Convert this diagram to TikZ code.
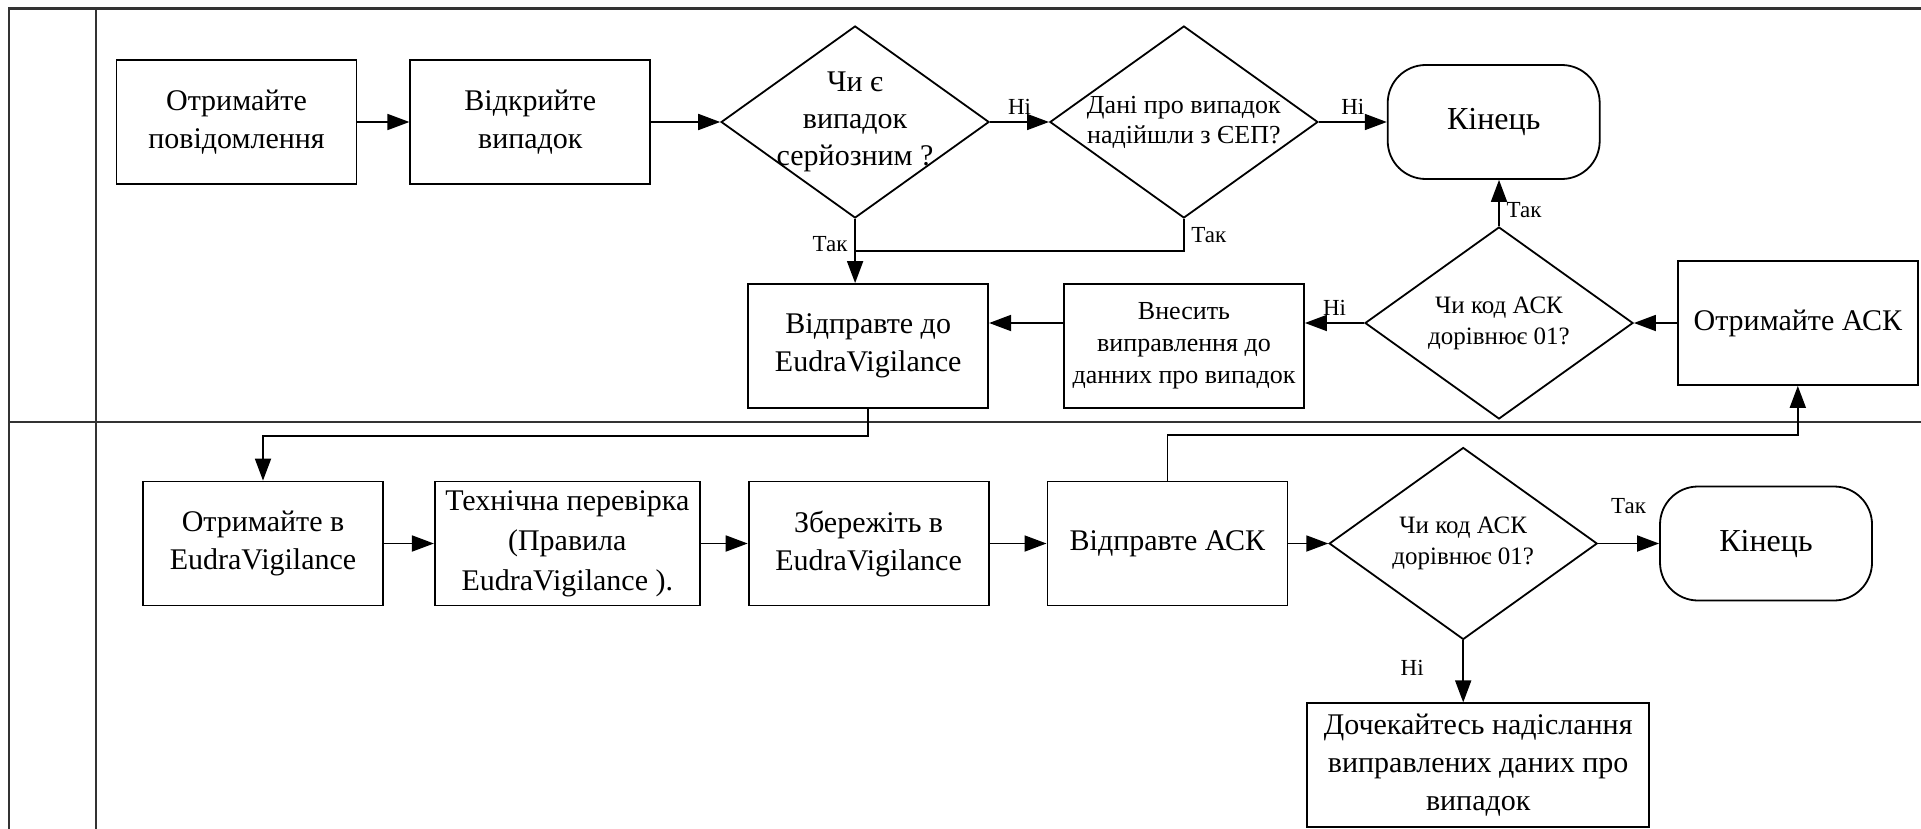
\documentclass[tikz,border=0pt]{standalone}
\usepackage{fontspec}
\setmainfont{Liberation Serif}
\usetikzlibrary{positioning,shapes.geometric,arrows.meta}

\tikzset{
  proc/.style={draw, line width=0.9pt, minimum width=120pt, minimum height=62pt,
    align=center, inner sep=2pt},
  decision/.style={draw, diamond, aspect=1.4, inner sep=-4pt, line width=0.9pt,
    minimum width=134pt, minimum height=96pt, align=center,
    font=\fontsize{12.5}{15.5}\selectfont},
  term/.style={draw, rounded corners=19pt, line width=0.9pt, minimum width=106pt,
    minimum height=57pt, font=\fontsize{16}{19}\selectfont},
  flow/.style={-{Triangle[length=11pt,width=8pt]}, line width=0.9pt},
  lbl/.style={font=\fontsize{11.5}{13}\selectfont},
  lane/.style={line width=1.2pt, draw=black!80}
}

\begin{document}
\begin{tikzpicture}[font=\fontsize{15}{19}\selectfont]
  \path[use as bounding box, fill=white] (0,0) rectangle (960.5pt,-414.5pt);

  % swimlanes
  \draw[lane] (960.5pt,-4.25pt) -- (4.5pt,-4.25pt) -- (4.5pt,-414.5pt);
  \draw[lane] (48pt,-4.25pt) -- (48pt,-414.5pt);
  \draw[lane] (4.5pt,-211pt) -- (960.5pt,-211pt);

  % upper lane
  \node[proc] (recv) at (118.25pt,-61pt) {Отримайте\\повідомлення};
  \node[proc, right=26pt of recv] (open) {Відкрийте\\випадок};
  \node[decision, font=\fontsize{15}{18.5}\selectfont, right=34.5pt of open] (serious) {Чи є\\випадок\\серйозним ?};
  \node[decision, font=\fontsize{13}{15}\selectfont, right=29.5pt of serious] (eep) {Дані про випадок\\надійшли з ЄЕП?};
  \node[term, right=34pt of eep] (end1) {Кінець};
  \node[decision] (ackcode) at (749.5pt,-161.5pt) {Чи код АСК\\дорівнює 01?};
  \node[proc, right=21.5pt of ackcode] (recvack) {Отримайте АСК};
  \node[proc, font=\fontsize{13}{16}\selectfont] (fix) at (592pt,-173pt) {Внесить\\виправлення до\\данних про випадок};
  \node[proc, left=37pt of fix] (send) {Відправте до\\EudraVigilance};

  % lower lane
  \node[proc] (getev) at (131.5pt,-271.75pt) {Отримайте в\\EudraVigilance};
  \node[proc, minimum width=132.5pt, font=\fontsize{15}{20}\selectfont, right=25pt of getev] (check) {Технічна перевірка\\(Правила\\EudraVigilance ).};
  \node[proc, right=23.5pt of check] (store) {Збережіть в\\EudraVigilance};
  \node[proc, right=28.5pt of store] (sendack) {Відправте АСК};
  \node[decision, right=20pt of sendack] (ackcode2) {Чи код АСК\\дорівнює 01?};
  \node[term, right=30.5pt of ackcode2] (end2) {Кінець};
  \node[proc, minimum width=171pt, below=31pt of ackcode2, xshift=7.5pt] (wait) {Дочекайтесь надіслання\\виправлених даних про\\випадок};

  \coordinate[below=16pt of serious.south] (join);

  \draw[flow] (recv) -- (open);
  \draw[flow] (open) -- (serious);
  \draw[flow] (serious) -- node[lbl, above] {Ні} (eep);
  \draw[flow] (eep) -- node[lbl, above] {Ні} (end1);
  \draw[flow] (serious.south) -- node[lbl, left, pos=0.4] {Так} (serious.south |- send.north);
  \draw[line width=0.9pt] (eep.south) |- node[lbl, right, pos=0.25] {Так} (join);
  \draw[flow] (recvack) -- (ackcode);
  \draw[flow] (ackcode.north) -- node[lbl, right, pos=0.35] {Так} (ackcode.north |- end1.south);
  \draw[flow] (ackcode) -- node[lbl, above] {Ні} (ackcode -| fix.east);
  \draw[flow] (fix.west |- ackcode) -- (send.east |- ackcode);
  \draw[flow] (send.south) -- ++(0,-13.5pt) -| (getev.north);
  \draw[flow] (getev) -- (check);
  \draw[flow] (check) -- (store);
  \draw[flow] (store) -- (sendack);
  \draw[flow] (sendack) -- (ackcode2);
  \draw[flow] (sendack.north) -- ++(0,23pt) -| (recvack.south);
  \draw[flow] (ackcode2) -- node[lbl, above=11pt] {Так} (end2);
  \draw[flow] (ackcode2.south) -- node[lbl, left=16pt, pos=0.45] {Ні} (ackcode2.south |- wait.north);
\end{tikzpicture}
\end{document}
